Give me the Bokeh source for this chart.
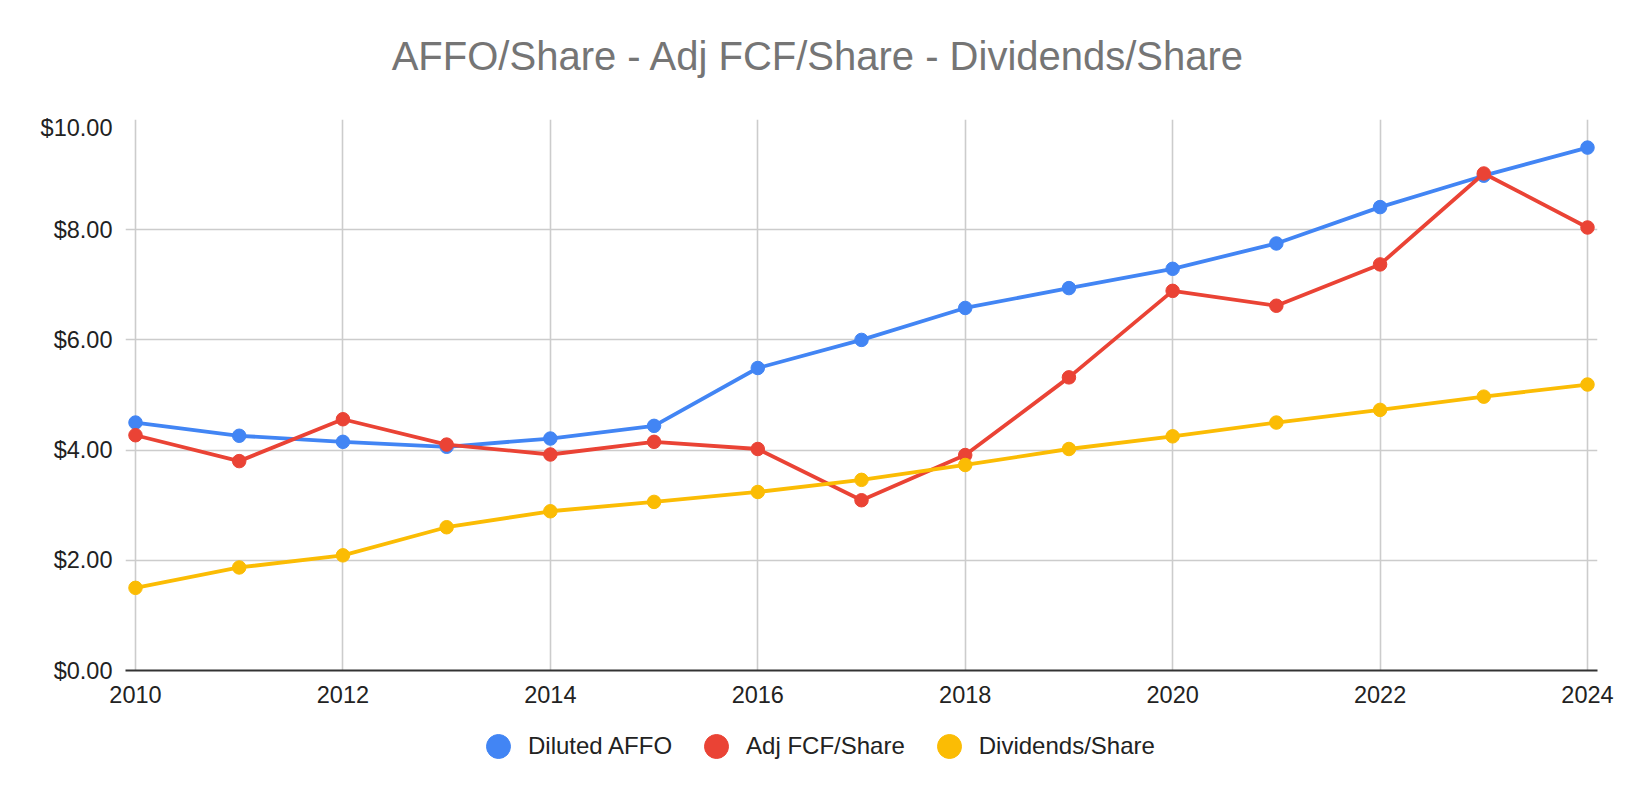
from bokeh.plotting import figure
from bokeh.layouts import column
from bokeh.models import Legend, LegendItem, FixedTicker, Range1d, ColumnDataSource, Label
from bokeh.embed import file_html
from bokeh.resources import INLINE

# ---- data ----
years = [2010, 2011, 2012, 2013, 2014, 2015, 2016, 2017, 2018, 2019, 2020, 2021, 2022, 2023, 2024]
diluted_affo = [4.50, 4.26, 4.15, 4.06, 4.21, 4.44, 5.49, 6.00, 6.58, 6.94, 7.29, 7.75, 8.41, 8.98, 9.49]
adj_fcf_share = [4.27, 3.80, 4.56, 4.10, 3.92, 4.15, 4.02, 3.09, 3.91, 5.32, 6.89, 6.62, 7.37, 9.02, 8.04]
dividends_share = [1.50, 1.87, 2.09, 2.60, 2.89, 3.06, 3.24, 3.46, 3.73, 4.02, 4.25, 4.50, 4.73, 4.97, 5.19]

series_names = ["Diluted AFFO", "Adj FCF/Share", "Dividends/Share"]
series_colors = ["#4285F4", "#EA4335", "#FBBC04"]

x_ticks = [2010, 2012, 2014, 2016, 2018, 2020, 2022, 2024]
y_ticks = [0, 2, 4, 6, 8, 10]
y_tick_labels = ["$0.00", "$2.00", "$4.00", "$6.00", "$8.00", "$10.00"]

title_text = "AFFO/Share - Adj FCF/Share - Dividends/Share"

FONT = "Liberation Sans"
W = 1628
FW = 1472  # frame width shared by all strips (column aligns the frames)


def bare(height):
    f = figure(width=W, height=height, output_backend="svg", toolbar_location=None,
               x_range=Range1d(0, FW), y_range=Range1d(0, height),
               x_axis_type=None, y_axis_type=None, min_border=0)
    f.outline_line_color = None
    f.background_fill_color = "white"
    f.border_fill_color = "white"
    f.grid.visible = False
    return f


# ---- title strip ----
tf = bare(114)
tf.add_layout(Label(x=693, y=59, text=title_text, text_align="center", text_baseline="alphabetic",
                    text_font=FONT, text_font_size="40px", text_color="#757575"))

# ---- main chart ----
pad = 0.0964
p = figure(frame_width=FW, frame_height=551, output_backend="svg", toolbar_location=None,
           x_range=Range1d(years[0] - pad, years[-1] + pad), y_range=Range1d(0, 10),
           min_border_left=125, min_border_right=31, min_border_top=5, min_border_bottom=50)
p.outline_line_color = None
p.background_fill_color = "white"
p.border_fill_color = "white"

p.xgrid.ticker = FixedTicker(ticks=x_ticks)
p.ygrid.ticker = FixedTicker(ticks=y_ticks)
for g in (p.xgrid, p.ygrid):
    g.grid_line_color = "#cccccc"
    g.grid_line_width = 1.6

p.xaxis.ticker = FixedTicker(ticks=x_ticks)
p.yaxis.ticker = FixedTicker(ticks=y_ticks)
p.yaxis.major_label_overrides = {t: l for t, l in zip(y_ticks, y_tick_labels)}
for ax in (p.xaxis, p.yaxis):
    ax.major_tick_line_color = None
    ax.minor_tick_line_color = None
    ax.major_tick_out = 0
    ax.major_tick_in = 0
    ax.major_label_text_font = FONT
    ax.major_label_text_font_size = "23.5px"
    ax.major_label_text_color = "#222222"
p.yaxis.axis_line_color = None
p.yaxis.major_label_standoff = 13
p.xaxis.axis_line_color = "#333333"
p.xaxis.axis_line_width = 2
p.xaxis.major_label_standoff = 15

src = ColumnDataSource(dict(x=years, a=diluted_affo, f=adj_fcf_share, d=dividends_share))
cols = ["a", "f", "d"]
for color, col in zip(series_colors, cols):
    p.line("x", col, source=src, line_color=color, line_width=3.8)
    p.scatter("x", col, source=src, size=13.5, fill_color=color, line_color=color)

# ---- legend strip ----
lf = bare(70)
items = []
for name, color in zip(series_names, series_colors):
    # proxy glyph lying outside the visible range, used only for the legend swatch
    r = lf.scatter(x=[-500], y=[-500], size=24, fill_color=color, line_color=color)
    items.append(LegendItem(label=name, renderers=[r]))
legend = Legend(items=items, orientation="horizontal", location=(343, 14),
                glyph_width=60, glyph_height=60, label_standoff=0, spacing=14,
                padding=0, margin=0, border_line_color=None, background_fill_alpha=0,
                label_text_font=FONT, label_text_font_size="24px", label_text_color="#222222")
lf.add_layout(legend, "center")

layout = column(tf, p, lf, spacing=0)
open("out.html", "w").write(file_html(layout, INLINE))
